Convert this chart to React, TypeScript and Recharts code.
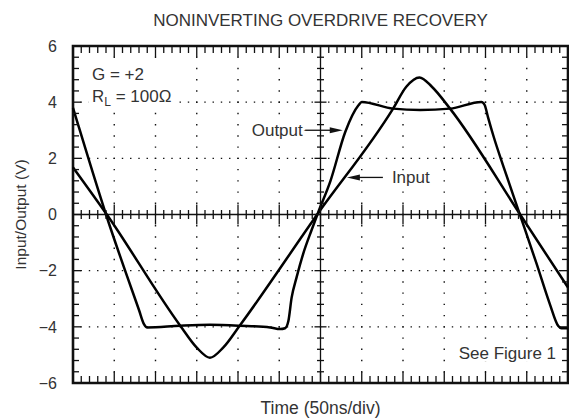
import React from "react";
import {
  ComposedChart,
  Line,
  Scatter,
  XAxis,
  YAxis,
  ReferenceLine,
  ReferenceArea,
  ReferenceDot,
} from "recharts";

// time in ns (50ns/div, 12 div), volts
const inputTime = [0, 41, 130, 150, 166, 182, 202, 296, 388, 404, 420, 435, 457, 542, 600];
const inputVolts = [1.68, 0, -3.96, -4.74, -5.1, -4.74, -3.96, 0, 3.77, 4.55, 4.88, 4.55, 3.77, 0, -2.6];

const outputTime = [
  0, 7, 40, 80, 86, 90, 130, 166, 202, 239, 251, 257, 261, 265, 271, 279, 289, 297, 312,
  330, 346, 350, 388, 421, 457, 495, 499, 503, 510, 522, 542, 562, 578, 588, 592, 600,
];
const outputVolts = [
  3.8, 3.12, 0, -3.4, -3.9, -4.02, -3.96, -3.93, -3.96, -4.02, -4.08, -4.05, -3.8, -2.96,
  -2.24, -1.4, -0.57, 0.06, 1.19, 2.94, 3.89, 4.01, 3.77, 3.72, 3.77, 4.01, 3.9, 3.47,
  2.76, 1.69, -0.03, -1.76, -3.19, -3.96, -4.05, -4.05,
];

const yTickLabels = [-6, -4, -2, 0, 2, 4, 6];
const timeGrid = [50, 100, 150, 200, 250, 350, 400, 450, 500, 550];
const voltGrid = [-4, -2, 2, 4];
// minor tick positions: 10ns steps and 0.4V steps
const timeMinor = Array.from({ length: 61 }, (_, i) => i * 10);
const voltMinor = Array.from({ length: 31 }, (_, i) => Math.round((-6 + i * 0.4) * 10) / 10);

const inputData = inputTime.map((t, i) => ({ t, v: inputVolts[i] }));
const outputData = outputTime.map((t, i) => ({ t, v: outputVolts[i] }));

const FONT = "'Liberation Sans', Arial, Helvetica, sans-serif";
const INK = "#111";
const TEXT = "#333";

const isMajorT = (t: number) => t % 50 === 0;
const isMajorV = (v: number) => Math.abs(v % 2) < 0.01;

const topTicks = timeMinor.map((t) => ({ t, v: 6 }));
const bottomTicks = timeMinor.map((t) => ({ t, v: -6 }));
const centerHTicks = timeMinor.map((t) => ({ t, v: 0 }));
const leftTicks = voltMinor.map((v) => ({ t: 0, v }));
const rightTicks = voltMinor.map((v) => ({ t: 600, v }));
const centerVTicks = voltMinor.map((v) => ({ t: 300, v }));

const tickLine = (x1: number, y1: number, x2: number, y2: number) => (
  <line x1={x1} y1={y1} x2={x2} y2={y2} stroke={INK} strokeWidth={1.3} />
);

const topShape = (p: any) => tickLine(p.cx, p.cy, p.cx, p.cy + (isMajorT(p.payload.t) ? 11 : 7));
const bottomShape = (p: any) => tickLine(p.cx, p.cy, p.cx, p.cy - (isMajorT(p.payload.t) ? 11 : 7));
const centerHShape = (p: any) => {
  const l = isMajorT(p.payload.t) ? 10 : 4.5;
  return tickLine(p.cx, p.cy - l, p.cx, p.cy + l);
};
const leftShape = (p: any) => tickLine(p.cx, p.cy, p.cx + (isMajorV(p.payload.v) ? 8 : 6), p.cy);
const rightShape = (p: any) => tickLine(p.cx, p.cy, p.cx - (isMajorV(p.payload.v) ? 8 : 6), p.cy);
const centerVShape = (p: any) => {
  const l = isMajorV(p.payload.v) ? 6 : 3.5;
  return tickLine(p.cx - l, p.cy, p.cx + l, p.cy);
};

// white halo so the dotted grid stops at the words, as on the scope plot
const textStyle = {
  fontFamily: FONT,
  fontSize: 17,
  fill: TEXT,
  stroke: "#fff",
  strokeWidth: 5,
  paintOrder: "stroke",
} as React.CSSProperties;

export default function App() {
  return (
    <div style={{ position: "absolute", left: 0, top: 0, width: 569, height: 420, background: "#fff" }}>
      <div
        style={{
          position: "absolute",
          left: 73,
          width: 495,
          top: 12,
          textAlign: "center",
          fontFamily: FONT,
          fontSize: 17,
          lineHeight: "17px",
          color: TEXT,
        }}
      >
        NONINVERTING OVERDRIVE RECOVERY
      </div>
      <ComposedChart width={569} height={420} margin={{ top: 46, right: 1, bottom: 0, left: 0 }}>
        <XAxis
          dataKey="t"
          type="number"
          domain={[0, 600]}
          height={37}
          tick={false}
          tickLine={false}
          axisLine={false}
          label={{
            value: "Time (50ns/div)",
            position: "insideBottom",
            offset: 6,
            style: { fontFamily: FONT, fontSize: 17.5, fill: TEXT },
          }}
        />
        <YAxis
          type="number"
          domain={[-6, 6]}
          ticks={yTickLabels}
          width={73}
          tickLine={false}
          axisLine={false}
          tickSize={0}
          tickMargin={16}
          tickFormatter={(v: number) => (v < 0 ? "\u2212" + Math.abs(v) : String(v))}
          tick={{ fontFamily: FONT, fontSize: 16, fill: TEXT }}
          label={{
            value: "Input/Output (V)",
            angle: -90,
            position: "insideLeft",
            offset: 20,
            style: { fontFamily: FONT, fontSize: 15.5, fill: TEXT, textAnchor: "middle" },
          }}
        />

        {timeGrid.map((t) => (
          <ReferenceLine
            key={"gx" + t}
            x={t}
            stroke={INK}
            strokeWidth={1.4}
            strokeDasharray="1.4 9.83"
            strokeDashoffset={0.7}
          />
        ))}
        {voltGrid.map((v) => (
          <ReferenceLine
            key={"gy" + v}
            y={v}
            stroke={INK}
            strokeWidth={1.4}
            strokeDasharray="1.4 6.85"
            strokeDashoffset={0.7}
          />
        ))}
        <ReferenceLine x={300} stroke={INK} strokeWidth={1.3} />
        <ReferenceLine y={0} stroke={INK} strokeWidth={1.3} />

        <Scatter data={topTicks} dataKey="v" shape={topShape} isAnimationActive={false} />
        <Scatter data={bottomTicks} dataKey="v" shape={bottomShape} isAnimationActive={false} />
        <Scatter data={centerHTicks} dataKey="v" shape={centerHShape} isAnimationActive={false} />
        <Scatter data={leftTicks} dataKey="v" shape={leftShape} isAnimationActive={false} />
        <Scatter data={rightTicks} dataKey="v" shape={rightShape} isAnimationActive={false} />
        <Scatter data={centerVTicks} dataKey="v" shape={centerVShape} isAnimationActive={false} />

        <ReferenceArea
          x1={0}
          x2={600}
          y1={-6}
          y2={6}
          fill="none"
          fillOpacity={0}
          stroke={INK}
          strokeWidth={2.6}
          ifOverflow="visible"
        />

        <Line
          data={inputData}
          dataKey="v"
          type="monotone"
          stroke="#000"
          strokeWidth={2.5}
          dot={false}
          isAnimationActive={false}
        />
        <Line
          data={outputData}
          dataKey="v"
          type="monotone"
          stroke="#000"
          strokeWidth={2.5}
          dot={false}
          isAnimationActive={false}
        />

        <ReferenceDot
          x={23}
          y={4.79}
          r={0}
          shape={(p: any) => (
            <g>
              <rect x={p.cx - 3} y={p.cy - 15} width={84} height={42} fill="#fff" />
              <text x={p.cx} y={p.cy} style={textStyle}>
                G = +2
              </text>
            </g>
          )}
        />
        <ReferenceDot
          x={23}
          y={4.0}
          r={0}
          shape={(p: any) => (
            <text x={p.cx} y={p.cy} style={textStyle}>
              R
              <tspan dy={4} fontSize={12}>
                L
              </tspan>
              <tspan dy={-4}> = 100Ω</tspan>
            </text>
          )}
        />
        <ReferenceDot
          x={327}
          y={3.0}
          r={0}
          shape={(p: any) => (
            <g>
              <line x1={p.cx - 39} y1={p.cy} x2={p.cx - 10} y2={p.cy} stroke={INK} strokeWidth={1.3} />
              <polygon
                points={`${p.cx},${p.cy} ${p.cx - 13},${p.cy - 3} ${p.cx - 13},${p.cy + 3}`}
                fill={INK}
              />
              <text x={p.cx - 40} y={p.cy + 6} textAnchor="end" style={textStyle}>
                Output
              </text>
            </g>
          )}
        />
        <ReferenceDot
          x={332}
          y={1.32}
          r={0}
          shape={(p: any) => (
            <g>
              <line x1={p.cx + 10} y1={p.cy} x2={p.cx + 36} y2={p.cy} stroke={INK} strokeWidth={1.3} />
              <polygon
                points={`${p.cx},${p.cy} ${p.cx + 13},${p.cy - 3} ${p.cx + 13},${p.cy + 3}`}
                fill={INK}
              />
              <text x={p.cx + 45} y={p.cy + 6} style={textStyle}>
                Input
              </text>
            </g>
          )}
        />
        <ReferenceDot
          x={585.5}
          y={-5.14}
          r={0}
          shape={(p: any) => (
            <text x={p.cx} y={p.cy} textAnchor="end" style={textStyle}>
              See Figure 1
            </text>
          )}
        />
      </ComposedChart>
    </div>
  );
}
